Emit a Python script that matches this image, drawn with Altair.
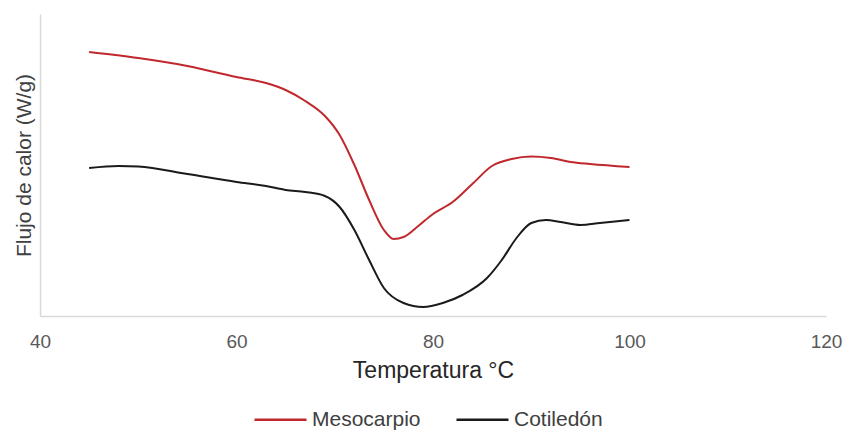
import altair as alt
import pandas as pd

# Mesocarpio (red)
meso_t = [45, 50, 55, 60, 63, 65, 67, 69, 70.5, 72, 73.5, 75, 76, 77, 78.5, 80, 82, 84, 86, 88, 90, 92, 94, 96, 100]
meso_v = [264, 258, 250, 239, 233, 226, 215, 200, 181, 151, 116, 86, 77, 79, 90, 102, 114, 132, 150, 157, 159.5, 158, 154, 152, 149]

# Cotiledón (black)
coti_t = [45, 48, 50, 55, 60, 63, 65, 67, 69, 70.5, 72, 73.5, 75, 77, 79, 81, 83, 85.5, 87, 88.5, 90, 91.5, 93, 95, 97, 100]
coti_v = [148, 150, 149.5, 142, 134, 130, 126, 124, 120, 109, 86, 56, 28, 13, 9, 13, 21, 38, 56, 78, 93, 96, 94, 91, 93, 96]

series = ["Mesocarpio", "Cotiledón"]
colors = ["#c0282d", "#1a1a1a"]

df = pd.concat([
    pd.DataFrame({"T": meso_t, "V": meso_v, "Serie": series[0], "o": range(len(meso_t))}),
    pd.DataFrame({"T": coti_t, "V": coti_v, "Serie": series[1], "o": range(len(coti_t))}),
])

chart = alt.Chart(df).mark_line(interpolate="monotone", strokeWidth=2).encode(
    x=alt.X("T:Q", scale=alt.Scale(domain=[40, 120], nice=False),
            axis=alt.Axis(values=[40, 60, 80, 100, 120], title="Temperatura °C",
                          ticks=False, grid=False, labelPadding=16, titlePadding=8,
                          labelFlush=False, labelOverlap=False,
                          labelFontSize=19, labelColor="#595959", titleFontSize=23,
                          titleFontWeight="normal", titleColor="#262626",
                          domainColor="#d9d9d9", domainWidth=1.5)),
    y=alt.Y("V:Q", scale=alt.Scale(domain=[0, 302], nice=False),
            axis=alt.Axis(labels=False, ticks=False, grid=False, title="Flujo de calor (W/g)",
                          titleFontSize=21, titleFontWeight="normal", titleColor="#404040",
                          titlePadding=6, domainColor="#d9d9d9", domainWidth=1.5)),
    color=alt.Color("Serie:N", scale=alt.Scale(domain=series, range=colors),
                    legend=alt.Legend(title=None, orient="none", direction="horizontal",
                                      legendX=213, legendY=378, symbolType="stroke",
                                      symbolSize=2704, symbolStrokeWidth=2.5,
                                      labelFontSize=21, labelColor="#404040",
                                      labelOffset=4, columnPadding=30)),
    order="o:Q",
).properties(
    width=786, height=302,
    autosize=alt.AutoSizeParams(type="none"),
    padding={"left": 32, "top": 6, "right": 17, "bottom": 116},
).configure(font="Liberation Sans").configure_view(stroke="transparent")

chart.save("out.html", embed_options={"renderer": "svg", "actions": False})
